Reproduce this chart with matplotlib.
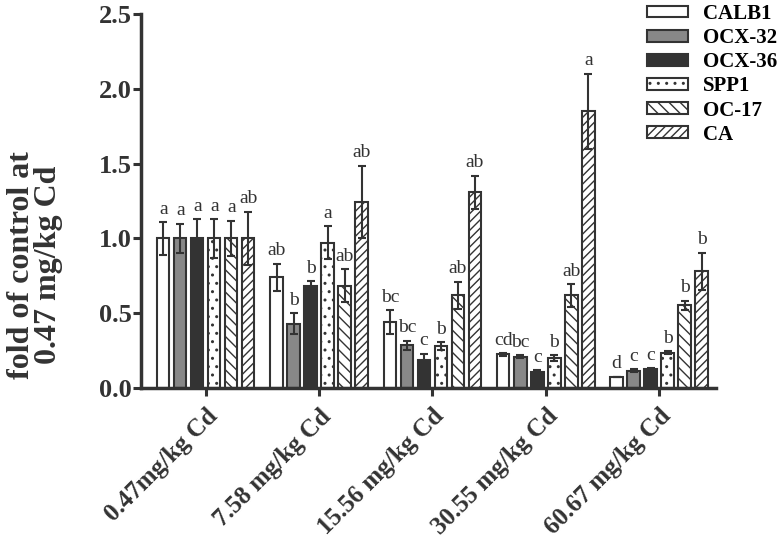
import matplotlib.pyplot as plt
import matplotlib.transforms as mtransforms
import numpy as np

plt.rcParams["font.family"] = ["Liberation Serif", "DejaVu Serif"]
plt.rcParams["hatch.linewidth"] = 1.0

groups = ["0.47mg/kg Cd", "7.58 mg/kg Cd", "15.56 mg/kg Cd", "30.55 mg/kg Cd", "60.67 mg/kg Cd"]
genes = ["CALB1", "OCX-32", "OCX-36", "SPP1", "OC-17", "CA"]

calb1 = [1.00, 0.74, 0.44, 0.225, 0.075]
ocx32 = [1.00, 0.43, 0.285, 0.21, 0.115]
ocx36 = [1.00, 0.685, 0.19, 0.105, 0.125]
spp1 = [1.00, 0.97, 0.28, 0.20, 0.237]
oc17 = [1.00, 0.685, 0.62, 0.62, 0.553]
ca = [1.00, 1.245, 1.31, 1.85, 0.78]

calb1_err = [0.11, 0.09, 0.08, 0.008, 0.0]
ocx32_err = [0.10, 0.07, 0.03, 0.008, 0.01]
ocx36_err = [0.13, 0.03, 0.04, 0.015, 0.008]
spp1_err = [0.13, 0.11, 0.025, 0.02, 0.01]
oc17_err = [0.12, 0.11, 0.09, 0.075, 0.03]
ca_err = [0.18, 0.24, 0.11, 0.25, 0.125]

calb1_sig = ["a", "ab", "bc", "cd", "d"]
ocx32_sig = ["a", "b", "bc", "bc", "c"]
ocx36_sig = ["a", "b", "c", "c", "c"]
spp1_sig = ["a", "a", "b", "b", "b"]
oc17_sig = ["a", "ab", "ab", "ab", "b"]
ca_sig = ["ab", "ab", "ab", "a", "b"]

values = [calb1, ocx32, ocx36, spp1, oc17, ca]
errors = [calb1_err, ocx32_err, ocx36_err, spp1_err, oc17_err, ca_err]
sigs = [calb1_sig, ocx32_sig, ocx36_sig, spp1_sig, oc17_sig, ca_sig]

dark = "#333333"
fills = ["white", "#888888", "#333333", "white", "white", "white"]
hatches = [None, None, None, "..", "\\\\\\", "////"]

fig = plt.figure(figsize=(7.84, 5.52), dpi=100)
ax = fig.add_axes([0.18, 0.297, 0.733, 0.6775])

x = np.arange(len(groups))
pitch = 0.15
width = 0.11
handles = []
for i, gene in enumerate(genes):
    pos = x + (i - 2.5) * pitch
    bars = ax.bar(pos, values[i], width, color=fills[i], edgecolor=dark,
                  linewidth=1.5, hatch=hatches[i], label=gene, zorder=2)
    ax.errorbar(pos, values[i], yerr=errors[i], fmt="none", ecolor=dark,
                elinewidth=1.5, capsize=3, capthick=1.5, zorder=3)
    handles.append(bars)
    for p, v, e, s in zip(pos, values[i], errors[i], sigs[i]):
        ax.text(p, v + e + 0.03, s, ha="center", va="bottom",
                fontsize=14, color=dark)

ax.set_xlim(-0.57, 4.5)
ax.set_ylim(0, 2.5)
ax.set_yticks([0, 0.5, 1.0, 1.5, 2.0, 2.5])
ax.set_yticklabels(["0.0", "0.5", "1.0", "1.5", "2.0", "2.5"])
ax.set_xticks(x)
ax.set_xticklabels(groups, rotation=45, ha="right", rotation_mode="anchor")
for lab in ax.get_yticklabels():
    lab.set_fontweight("bold")
    lab.set_fontsize(19)
    lab.set_color(dark)
shift = mtransforms.ScaledTranslation(-0.08, -0.10, fig.dpi_scale_trans)
for lab in ax.get_xticklabels():
    lab.set_fontweight("bold")
    lab.set_fontsize(18)
    lab.set_color(dark)
    lab.set_transform(lab.get_transform() + shift)

for side in ["top", "right"]:
    ax.spines[side].set_visible(False)
for side in ["left", "bottom"]:
    ax.spines[side].set_linewidth(2.5)
    ax.spines[side].set_color(dark)
ax.tick_params(axis="both", direction="out", length=6, width=2.2, color=dark, pad=1)
ax.tick_params(axis="x", pad=6)

ax.set_ylabel("fold of control at\n0.47 mg/kg Cd", fontsize=23, fontweight="bold",
              color=dark, linespacing=0.9)
ax.yaxis.set_label_coords(-0.136, 0.33)

fig.legend(handles=handles, labels=genes, loc="upper right",
           bbox_to_anchor=(1.015, 1.027), frameon=False,
           prop={"weight": "bold", "size": 15}, handlelength=2.0,
           handleheight=0.5, labelspacing=0.2, handletextpad=0.7)

fig.savefig("out.png", dpi=100)
